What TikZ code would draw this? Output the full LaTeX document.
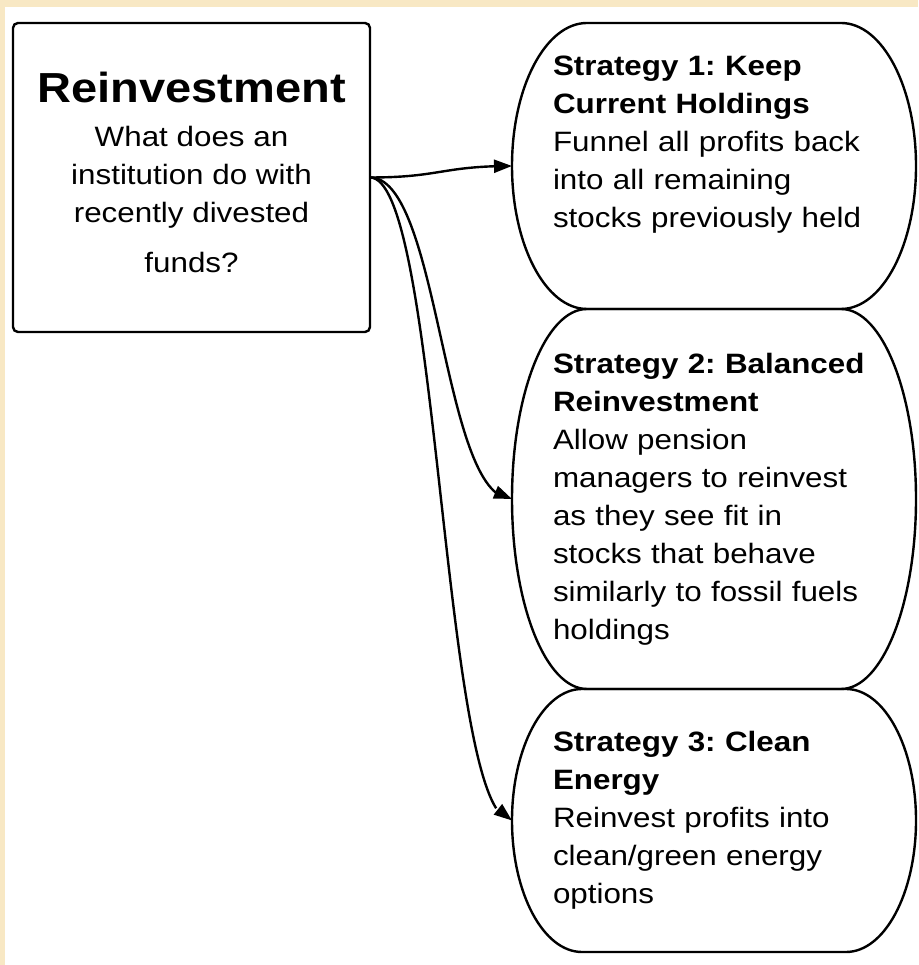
\documentclass[tikz,border=0pt]{standalone}
\usepackage{fontspec}
\setmainfont{Liberation Sans}[FakeStretch=1.12]
\frenchspacing
\usetikzlibrary{arrows.meta, bending, calc}
\definecolor{paper}{HTML}{F8E8C4}
\definecolor{ink}{HTML}{000000}

% outline with half-ellipse ends around a node: #1 node, #2 end radius
\newcommand{\pillframe}[2]{%
  \draw[pillline] let \p1=(#1.north west), \p2=(#1.south east),
      \n1={(\y1-\y2)/2} in
    (\x1+#2pt,\y1) -- (\x2-#2pt,\y1)
    arc[start angle=90, end angle=-90, x radius=#2pt, y radius=\n1]
    -- (\x1+#2pt,\y2)
    arc[start angle=270, end angle=90, x radius=#2pt, y radius=\n1]
    -- cycle;}

\begin{document}
\begin{tikzpicture}[
  x=1pt, y=1pt,
  >={Triangle[length=18pt, width=13pt]},
  qbox/.style={
    draw=ink, line width=2.4pt, rounded corners=5pt,
    minimum width=357pt, minimum height=309pt, inner sep=0pt, outer sep=0pt,
    font=\fontsize{28}{38}\selectfont, text=ink, align=center
  },
  strat/.style={
    minimum height=#1, text width=322pt, inner xsep=41pt, inner ysep=0pt,
    outer sep=0pt, font=\fontsize{28}{38}\selectfont, text=ink, align=left
  },
  pillline/.style={draw=ink, line width=2.4pt},
  arr/.style={->, line width=2.4pt, ink},
]

% Background
\fill[paper] (0,0) rectangle (918,965);
\fill[white] (5,0) rectangle (918,958);

% ===== Question box =====
\node[qbox] (question) at (191.5,787.5)
  {{\fontsize{42}{48}\selectfont\bfseries Reinvestment}\\[6pt]
   What does an\\institution do with\\recently divested\\[12pt]
   funds?\strut};

% ===== Strategies =====
\node[strat=286pt] (keep) at (714,799)
  {\textbf{Strategy 1: Keep}\\\textbf{Current Holdings}\\
   Funnel all profits back\\into all remaining\\
   stocks previously held\\ \strut};
\pillframe{keep}{75}

\node[strat=380pt] (balanced) at (714,466)
  {\textbf{Strategy 2: Balanced}\\\textbf{Reinvestment}\\
   Allow pension\\managers to reinvest\\as they see fit in\\
   stocks that behave\\similarly to fossil fuels\\holdings};
\pillframe{balanced}{75}

\node[strat=263pt] (clean) at (714,144.5)
  {\textbf{Strategy 3: Clean}\\\textbf{Energy}\\
   Reinvest profits into\\clean/green energy\\options};
\pillframe{clean}{70}

% ===== Arrows =====
\draw[arr] (question.east) .. controls +(70,0) and +(-70,0) .. (keep.west);
\draw[arr] (question.east) .. controls +(70,0) and +(-70,0) .. (balanced.west);
\draw[arr] (question.east) .. controls +(70,0) and +(-70,0) .. (clean.west);

\end{tikzpicture}
\end{document}
